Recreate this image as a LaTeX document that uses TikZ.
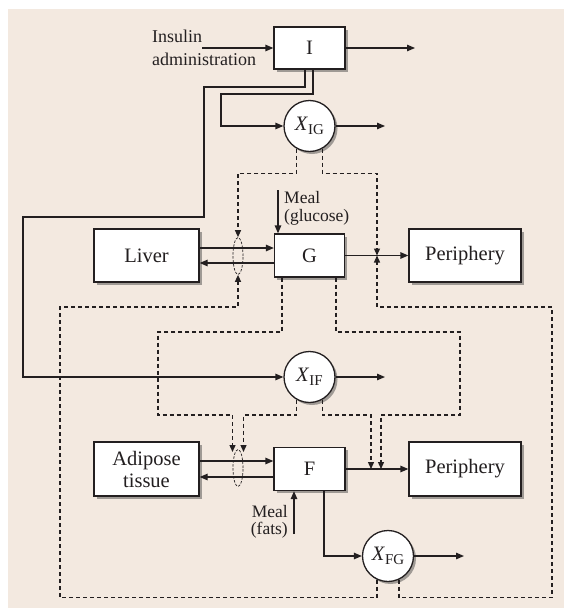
\documentclass[tikz,border=0pt]{standalone}
\usepackage{fontspec}
\setmainfont{Liberation Serif}
\usetikzlibrary{arrows.meta,shapes.geometric,shadows}
\definecolor{paper}{RGB}{243,233,224}
\definecolor{ink}{RGB}{35,31,32}
% italic X with an upright, lowered subscript
\newcommand\cterm[1]{\textit{X}\raisebox{-3.5pt}{\fontsize{15}{15}\selectfont #1}}

\begin{document}
\begin{tikzpicture}[x=1pt,y=-1pt,
  every node/.style={text=ink},
  flow/.style={draw=ink,line width=1.3pt,-{Triangle[length=8pt,width=6.5pt]}},
  ctrl/.style={draw=ink,line width=1.3pt,dash pattern=on 4pt off 3pt,
               -{Triangle[length=7pt,width=6pt]}},
  block/.style={draw=ink,line width=1.3pt,fill=white,inner sep=0pt,align=center,
               drop shadow={shadow xshift=2.5pt,shadow yshift=-2.5pt,fill=black!70,opacity=0.5},
               font=\fontsize{20.5}{22}\selectfont},
  mult/.style={circle,draw=ink,line width=1.3pt,fill=white,minimum size=51pt,inner sep=0pt,
               drop shadow={shadow xshift=2.5pt,shadow yshift=-2.5pt,fill=black!70,opacity=0.5},
               font=\fontsize{20.5}{22}\selectfont},
  lens/.style={ellipse,draw=ink,line width=0.7pt,dash pattern=on 2.5pt off 1.5pt,
               minimum width=10pt,minimum height=37pt,inner sep=0pt},
  small/.style={inner sep=0pt,font=\fontsize{17.5}{18}\selectfont}
]
\useasboundingbox (0,0) rectangle (564,608);
\fill[paper] (8,9) rectangle (564,608);

% compartments
\node[block,minimum width=71pt,minimum height=42pt]  (I)     at (309.5,48)   {I};
\node[block,minimum width=105pt,minimum height=53pt] (liver) at (146.5,255.5) {Liver};
\node[block,minimum width=70pt,minimum height=43pt]  (G)     at (309.5,255.5) {G};
\node[block,minimum width=112pt,minimum height=53pt] (perG)  at (465,255.5)   {Periphery};
\node[block,minimum width=105pt,minimum height=54pt] (adip)  at (146.5,469)   {Adipose\\tissue};
\node[block,minimum width=71pt,minimum height=43pt]  (F)     at (309.5,469)   {F};
\node[block,minimum width=112pt,minimum height=54pt] (perF)  at (465,469)     {Periphery};

% interaction terms
\node[mult] (xig) at (309.5,126) {\cterm{IG}};
\node[mult] (xif) at (309.5,377) {\cterm{IF}};
\node[mult] (xfg) at (388,556)   {\cterm{FG}};

% exchange lenses
\node[lens] (lensG) at (238,256) {};
\node[lens] (lensF) at (238,468) {};

% labels
\node[small,anchor=west,align=left,font=\fontsize{18}{23.3}\selectfont] (insTxt) at (152,47.5) {Insulin\\administration};
\node[small,anchor=west,align=left] (mealGTxt) at (284,208) {Meal\\(glucose)};
\node[small,anchor=east,align=right,font=\fontsize{17.5}{16.5}\selectfont] (mealFTxt) at (288,522) {Meal\\(fats)};

% free ends and taps
\coordinate (insIn)  at (202,48);
\coordinate (iOut)   at (415,48);
\coordinate (xigOut) at (385,126);
\coordinate (xifOut) at (385,377);
\coordinate (xfgOut) at (464,556);
\coordinate (mealG)  at (278,190);
\coordinate (mealF)  at (294,534);
\coordinate (tapG)   at (377,255.5);
\coordinate (tapF1)  at (371,469);
\coordinate (tapF2)  at (381,469);
\coordinate (lensFa) at (232.5,452);
\coordinate (lensFb) at (243.5,452);

% mass flows
\draw[flow] (insIn) -- (I.west);
\draw[flow] (I.east) -- (iOut);
\draw[flow] ([xshift=3.5pt]I.south) |- (221,94) |- (xig.west);
\draw[flow] ([xshift=-4.5pt]I.south) |- (204,87) |- (23,217) |- (xif.west);
\draw[flow] (xig.east) -- (xigOut);
\draw[flow] (xif.east) -- (xifOut);
\draw[flow] (xfg.east) -- (xfgOut);
\draw[flow] ([yshift=7.5pt]liver.east) -- ([yshift=7.5pt]G.west);
\draw[flow] ([yshift=-7.5pt]G.west) -- ([yshift=-7.5pt]liver.east);
\draw[flow] ([yshift=8pt]adip.east) -- ([yshift=8pt]F.west);
\draw[flow] ([yshift=-8pt]F.west) -- ([yshift=-8pt]adip.east);
\draw[flow] (G.east) -- (perG.west);
\draw[flow] (F.east) -- (perF.west);
\draw[flow] (mealG) -- (mealG |- G.north);
\draw[flow] (mealF) -- (mealF |- F.south);
\draw[flow] ([xshift=14.5pt]F.south) |- (xfg.west);

% control signals
\draw[ctrl] (xig.240) -- ++(0,25) -| (lensG.north);
\draw[ctrl] (xig.300) -- ++(0,25) -| (tapG);
\draw[ctrl] (xfg.245) -- ++(0,18) -| (60,307) -| (lensG.south);
\draw[ctrl] (xfg.295) -- ++(0,18) -| (552,307) -| (tapG);
\draw[ctrl] ([xshift=-27.5pt]G.south) |- (158,332) |- (232.5,415) -- (lensFa);
\draw[ctrl] (xif.240) |- (243.5,415) -- (lensFb);
\draw[ctrl] (xif.300) |- (371,415) -- (tapF1);
\draw[ctrl] ([xshift=26.5pt]G.south) |- (460,332) |- (381,415) -- (tapF2);
\end{tikzpicture}
\end{document}
